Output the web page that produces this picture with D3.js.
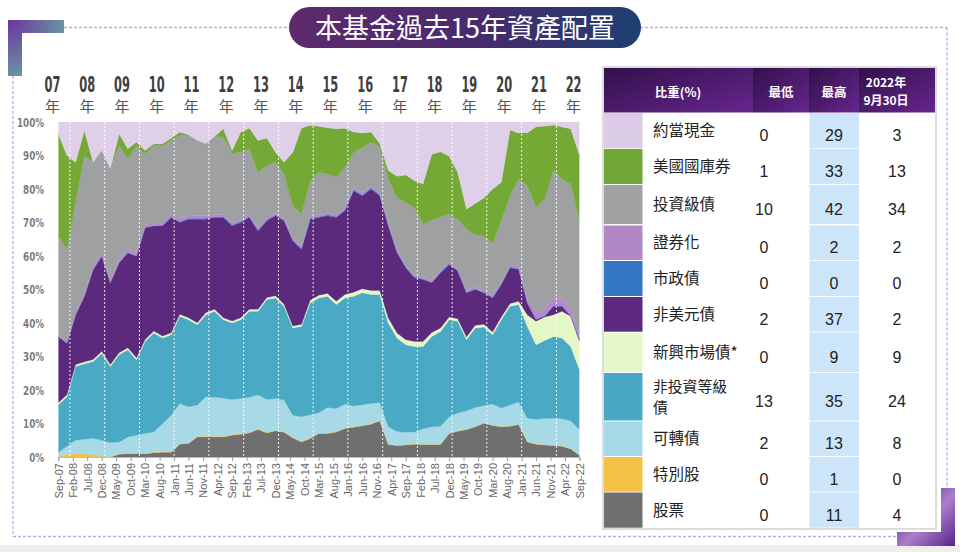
<!DOCTYPE html>
<html><head><meta charset="utf-8">
<script src="https://cdn.jsdelivr.net/npm/d3@7"></script>
<style>body{margin:0;background:#fff;}svg{display:block;}</style>
</head><body>
<svg id="c" width="960" height="552"></svg>
<script>
// ---------- DATA ----------
const dates = ["2007-09","2007-12","2008-03","2008-06","2008-09","2008-12","2009-03","2009-06","2009-09","2009-12",
"2010-03","2010-06","2010-09","2010-12","2011-03","2011-06","2011-09","2011-12","2012-03","2012-06",
"2012-09","2012-12","2013-03","2013-06","2013-09","2013-12","2014-03","2014-06","2014-09","2014-12",
"2015-03","2015-06","2015-09","2015-12","2016-03","2016-06","2016-09","2016-12","2017-03","2017-06",
"2017-09","2017-12","2018-03","2018-06","2018-09","2018-12","2019-03","2019-06","2019-09","2019-12",
"2020-03","2020-06","2020-09","2020-12","2021-03","2021-06","2021-09","2021-12","2022-03","2022-06","2022-09"];

const stock = [0,0,0,0,0,0,0,0.8,1.0,1.0, 0.9,1.3,1.4,1.4,3.8,4.0,6.0,6.0,6.0,6.0, 6.5,6.8,7.2,8.2,7.2,7.8,7.4,5.7,4.5,5.5,
 7.0,7.0,7.5,8.5,8.9,9.3,9.8,10.8,3.7,3.4, 3.6,3.8,3.7,3.7,3.7,7.0,7.7,8.2,9.0,10.1, 9.4,9.0,9.2,9.7,4.5,3.8,3.6,3.4,3.2,2.4, 0.5];
const pref = [0,0.8,1.0,1.0,0.6,0.3,0,0.2,0.2,0.2, 0.2,0.2,0.2,0.2,0.2,0.2,0.2,0.2,0.2,0.2, 0.2,0.2,0.2,0.2,0.2,0.2,0.2,0.2,0.2,0.2,
 0.1,0.1,0.1,0.1,0.1,0.1,0.1,0.1,0.1,0.1, 0.1,0.1,0.1,0.1,0.1,0.1,0.1,0.1,0.1,0.1, 0.1,0.1,0.1,0.1,0.1,0.1,0.1,0.1,0.1,0.1, 0.1];
const conv = [1.4,2.4,4.0,4.3,5.0,4.7,4.3,3.5,4.8,5.3, 5.9,6.0,8.4,10.9,12.0,10.8,9.3,11.8,11.6,11.4, 10.5,10.5,10.4,10.2,9.8,9.5,9.4,6.6,7.3,6.9,
 6.1,7.7,6.9,7.2,6.2,6.2,6.1,5.4,5.2,4.1, 3.7,3.6,4.6,5.2,5.4,4.9,5.3,5.5,5.7,5.2, 6.3,5.5,6.2,6.7,7.0,7.4,7.8,8.1,8.1,8.3, 7.6];
const hy = [14.2,14.8,22.0,22.5,22.9,26.0,22.7,26.0,26.0,22.5, 27.5,29.5,25.5,24.0,26.0,26.0,24.0,24.5,25.7,23.4, 22.8,23.5,25.7,24.9,29.8,30.0,28.0,26.0,27.0,33.4,
 34.3,33.2,31.0,31.7,32.8,33.4,32.5,32.2,31.0,27.9, 26.1,25.5,24.6,27.0,28.3,29.0,27.4,21.2,23.7,23.4, 20.7,26.4,29.5,29.0,27.4,22.2,23.3,24.4,24.1,22.2, 17.8];
const em = [0.6,0.6,0.6,0.6,0.6,0.6,0.6,0.6,0.6,0.6, 0.6,0.6,0.6,0.6,0.6,0.6,0.6,0.6,0.6,0.6, 0.6,0.6,0.6,0.6,0.6,0.6,0.6,0.6,0.6,0.8,
 0.8,0.8,1.0,1.0,1.2,1.2,1.2,1.2,1.5,1.5, 1.5,1.5,1.5,1.2,1.0,0.8,0.8,0.8,0.8,0.8, 0.8,0.8,0.8,1.0,3.5,7.0,7.0,6.5,8.0,9.0, 8.5];
const nonusd = [19.8,15.4,14.9,19.6,26.9,28.4,24.4,26.9,28.4,30.4, 33.4,31.4,32.9,34.4,27.4,29.4,30.9,27.9,27.4,29.9, 28.4,28.4,27.4,23.4,22.9,23.9,24.9,25.4,22.4,24.2,
 23.2,23.2,25.0,25.0,30.3,27.8,30.3,28.3,27.5,24.0, 21.5,19.0,18.5,14.8,16.5,15.7,14.2,13.2,10.7,9.4, 10.2,9.7,10.7,9.5,3.5,0.5,0.2,2.5,1.5,0.0, 0.5];
const muni = [0,0,0,0,0,0,0,0,0,0, 0,0,0.2,0.2,0.3,0.3,0.3,0.3,0.3,0.3, 0.3,0.3,0.3,0.3,0.3,0.3,0.3,0.3,0.3,0.3,
 0.3,0.3,0.3,0.3,0.3,0.3,0.3,0.3,0.3,0.3, 0.2,0.2,0.2,0.2,0.2,0.2,0.2,0.2,0.2,0.2, 0.2,0.2,0.2,0.2,0.2,0.2,0.2,0.2,0.2,0.2, 0.2];
const sec = [0.3,0.3,0.5,0.8,1.0,1.0,1.0,1.0,1.0,1.0, 0.8,0.8,0.8,0.8,0.8,0.7,0.7,0.7,0.7,0.7, 0.7,0.7,0.7,0.7,0.7,0.7,0.7,0.7,0.7,0.7,
 0.7,0.7,0.7,0.7,0.7,0.7,0.7,0.7,0.7,0.7, 0.6,0.6,0.6,0.6,0.6,0.6,0.6,0.6,0.6,0.6, 0.6,0.6,0.6,1.0,1.5,2.0,2.0,2.5,2.0,2.0, 2.0];
const ig = [29.7,27.7,33.0,41.2,31.0,30.5,33.0,34.0,27.0,32.0, 21.2,23.2,23.0,22.0,24.9,24.2,22.5,21.5,23.2,23.0, 20.7,20.0,19.5,16.5,15.5,15.0,13.0,9.5,9.5,10.5,
 12.5,11.5,11.0,12.0,10.5,13.3,13.0,13.6,13.0,15.5, 18.7,20.2,15.7,17.9,15.9,14.2,14.7,18.2,15.6,16.2, 15.5,18.2,20.7,25.8,33.3,31.5,32.8,38.0,35.8,37.3, 33.5];
const tsy = [30.5,28.0,12.0,7.5,0,0,0,3.5,3.0,1.0, 1.0,0.5,0.5,0.7,1.0,0,0,0,0,2.5, 0.8,6.0,6.2,9.5,8.2,3.0,3.5,16.0,25.7,16.5,
 13.7,13.8,14.5,11.6,6.0,4.4,3.0,1.0,2.5,6.3, 8.2,8.0,12.0,19.7,19.4,17.3,14.0,6.0,9.3,11.3, 16.2,11.5,19.6,13.7,15.7,23.9,21.8,13.4,15.5,16.5, 19.4];
const cash = [3.5,10.0,12.0,2.5,12.0,8.5,14.0,3.5,8.0,6.0, 8.5,6.5,6.5,4.8,3.0,3.8,5.5,6.5,4.3,2.0, 8.5,3.0,1.8,5.5,4.8,9.0,12.0,9.0,1.8,1.0,
 1.3,1.7,2.0,1.9,3.0,3.3,3.0,6.4,14.5,16.2, 15.8,17.5,18.5,9.6,8.9,10.2,15.0,26.0,24.3,22.7, 20.0,18.0,2.4,3.3,3.3,1.4,1.2,0.9,1.5,2.0, 9.9];

const xTickLabels = ["Sep-07","Feb-08","Jul-08","Dec-08","May-09","Oct-09","Mar-10","Aug-10","Jan-11","Jun-11","Nov-11","Apr-12","Sep-12",
"Feb-13","Jul-13","Dec-13","May-14","Oct-14","Mar-15","Aug-15","Jan-16","Jun-16","Nov-16","Apr-17","Sep-17","Feb-18","Jul-18","Dec-18",
"May-19","Oct-19","Mar-20","Aug-20","Jan-21","Jun-21","Nov-21","Apr-22","Sep-22"];
const yearLabels = ["07","08","09","10","11","12","13","14","15","16","17","18","19","20","21","22"];
const yTicks = [0,10,20,30,40,50,60,70,80,90,100];

const tableLabels = ["約當現金","美國國庫券","投資級債","證券化","市政債","非美元債","新興市場債*","非投資等級|債","可轉債","特別股","股票"];
const minVals = [0,1,10,0,0,2,0,13,2,0,0];
const maxVals = [29,33,42,2,0,37,9,35,13,1,11];
const latestVals = [3,13,34,2,0,2,9,24,8,0,4];
const headerLabels = ["比重(%)","最低","最高","2022年|9月30日"];
const titleText = "本基金過去15年資產配置";

// ---------- SETUP ----------
const keys = ["stock","pref","conv","hy","em","nonusd","muni","sec","ig","tsy","cash"];
const seriesArr = {stock,pref,conv,hy,em,nonusd,muni,sec,ig,tsy,cash};
const chartColors = {stock:"#6f6f6f",pref:"#f3c044",conv:"#a8d9e7",hy:"#4aa9c4",em:"#e6f7c6",nonusd:"#5c2a7c",
  muni:"#3a78c2",sec:"#b38ad0",ig:"#9ea0a1",tsy:"#74a935",cash:"#e0cfe8"};
const tableKeys = ["cash","tsy","ig","sec","muni","nonusd","em","hy","conv","pref","stock"];
const swatchColors = {stock:"#707070",pref:"#f4c245",conv:"#a6d9e8",hy:"#4ba8c4",em:"#e7f8cb",nonusd:"#5d2a7f",
  muni:"#3377c2",sec:"#b187c6",ig:"#a0a2a3",tsy:"#72a737",cash:"#dccbe6"};

const parseD = d3.timeParse("%Y-%m");
const parseT = d3.timeParse("%b-%y");
const rows = dates.map((d,i)=>{const r={date:parseD(d)}; keys.forEach(k=>r[k]=seriesArr[k][i]); return r;});

const svg = d3.select("#c");
const defs = svg.append("defs");
function lin(id, stops, x1,y1,x2,y2){
  const g=defs.append("linearGradient").attr("id",id).attr("x1",x1).attr("y1",y1).attr("x2",x2).attr("y2",y2);
  stops.forEach(([o,c])=>g.append("stop").attr("offset",o).attr("stop-color",c));
}
lin("gTitle",[[0,"#5e2a6e"],[0.55,"#482b6c"],[1,"#1d3f72"]],"0%","0%","100%","0%");
lin("gHead",[[0,"#32104a"],[1,"#66268e"]],"0%","0%","100%","100%");
lin("gBR",[[0,"#4a1b70"],[0.55,"#a97fcb"],[1,"#58238a"]],"0%","0%","100%","100%");
const rg = defs.append("radialGradient").attr("id","gTL").attr("gradientUnits","userSpaceOnUse")
  .attr("cx",8).attr("cy",20).attr("r",62);
rg.append("stop").attr("offset",0).attr("stop-color","#6a34a0");
rg.append("stop").attr("offset",1).attr("stop-color","#6a9ca2");
defs.append("clipPath").attr("id","plotClip").append("rect").attr("x",58.3).attr("y",122).attr("width",521.2).attr("height",335);

// background bottom strip
svg.append("rect").attr("x",0).attr("y",545).attr("width",960).attr("height",7).attr("fill","#eeeeee");

// dotted frame
const dash = {stroke:"#c9a3ea","stroke-width":1.3,"stroke-dasharray":"3,2",fill:"none"};
function dl(x1,y1,x2,y2){const l=svg.append("line").attr("x1",x1).attr("y1",y1).attr("x2",x2).attr("y2",y2); Object.entries(dash).forEach(([k,v])=>l.attr(k,v));}
dl(64,27.5,290,27.5); dl(640,27.5,947,27.5); dl(947,27.5,947,488); dl(13,76,13,536.5); dl(13,536.5,897,536.5);

// decorations
svg.append("path").attr("d","M8,20 H64 V33 H22 V76 H8 Z").attr("fill","url(#gTL)");
svg.append("path").attr("d","M941,488 H955 V546 H897 V532 H941 Z").attr("fill","url(#gBR)");

// title
svg.append("rect").attr("x",289).attr("y",7).attr("width",352).attr("height",41).attr("rx",20.5).attr("fill","url(#gTitle)");
svg.append("text").attr("x",465).attr("y",37.5).attr("text-anchor","middle").attr("fill","#fff")
  .attr("font-family","'Noto Sans CJK TC','Noto Sans CJK SC',sans-serif").attr("font-size",27).text(titleText);

// ---------- CHART ----------
const x = d3.scaleTime().domain([parseD("2007-09"),parseD("2022-09")]).range([58.3,579.5]);
const y = d3.scaleLinear().domain([0,100]).range([457,122]);
const stack = d3.stack().keys(keys)(rows);
const area = d3.area().x(d=>x(d.data.date)).y0(d=>y(d[0])).y1(d=>y(d[1]));
const g = svg.append("g").attr("clip-path","url(#plotClip)");
g.selectAll("path.layer").data(stack).join("path").attr("class","layer")
  .attr("d",area).attr("fill",d=>chartColors[d.key]).attr("stroke",d=>chartColors[d.key]).attr("stroke-width",0.3);

// white dotted year lines (January)
const jan = yearLabels.slice(1).map(s=>new Date(2000+ +s,0,1));
g.selectAll("line.yr").data(jan).join("line").attr("class","yr")
  .attr("x1",d=>x(d)).attr("x2",d=>x(d)).attr("y1",122).attr("y2",457)
  .attr("stroke","#ffffff").attr("stroke-width",1).attr("stroke-dasharray","2,2").attr("opacity",0.9);

// x axis
const xa = svg.append("g").attr("transform","translate(0,457)")
  .call(d3.axisBottom(x).tickValues(xTickLabels.map(parseT)).tickFormat(d3.timeFormat("%b-%y")).tickSize(4).tickPadding(3));
xa.select(".domain").attr("stroke","#bdbdbd");
xa.selectAll(".tick line").attr("stroke","#9a9a9a");
xa.selectAll(".tick text").attr("transform","rotate(-90)").attr("text-anchor","end")
  .attr("x",-6).attr("y",0).attr("dy","0.35em")
  .attr("font-family","'Liberation Sans',Arial,sans-serif").attr("font-size",11).attr("fill","#666");

// y axis
const ya = svg.append("g").attr("transform","translate(44,0)")
  .call(d3.axisLeft(y).tickValues(yTicks).tickFormat(d=>d+"%").tickSize(0).tickPadding(0));
ya.select(".domain").remove();
ya.selectAll(".tick text").attr("transform","scale(0.78,1)")
  .attr("font-family","'DejaVu Sans Condensed','Liberation Sans',sans-serif")
  .attr("font-weight","bold").attr("font-size",12.5).attr("fill","#7c7c7c");

// year labels
const yl = svg.append("g");
yearLabels.forEach(s=>{
  const cx = x(new Date(2000+ +s,6,1));
  yl.append("text").attr("transform",`translate(${cx},${92}) scale(0.62,1)`).attr("text-anchor","middle")
    .attr("font-family","'DejaVu Sans Condensed','Liberation Sans',sans-serif").attr("font-weight","bold")
    .attr("font-size",20.5).attr("fill","#3f3f3f").text(s);
  yl.append("text").attr("x",cx).attr("y",112).attr("text-anchor","middle")
    .attr("font-family","'Noto Sans CJK TC',sans-serif").attr("font-size",15).attr("fill","#555").text("年");
});

// ---------- TABLE ----------
const T = svg.append("g");
T.append("rect").attr("x",603).attr("y",67).attr("width",333).attr("height",462).attr("fill","#fff")
  .attr("stroke","#dcdcdc").attr("stroke-width",2);
const headCells = [[604,753],[753,809],[809,859],[859,935]];
const headCx = [678,781,834,886];
headCells.forEach(([a,b],i)=>{
  T.append("rect").attr("x",a).attr("y",68).attr("width",b-a).attr("height",44.5).attr("fill","url(#gHead)");
  const parts = headerLabels[i].split("|");
  parts.forEach((p,j)=>{
    T.append("text").attr("x",headCx[i]).attr("y",parts.length>1?(86.5+j*18.5):96.5).attr("text-anchor","middle")
      .attr("font-family","'Noto Sans CJK TC','Liberation Sans',sans-serif").attr("font-weight","bold")
      .attr("font-size",parts.length>1?12:12.5).attr("fill","#fff").text(p);
  });
});
const rowTops = [113,149,185,225.5,261,297,332.5,373,421.5,457,492.5];
const rowHs = [35.3,35,39,34.5,35,34.7,39.5,47.5,34.5,34.7,35.2];
tableKeys.forEach((k,i)=>{
  const t=rowTops[i], h=rowHs[i], cy=t+h/2;
  T.append("rect").attr("x",604).attr("y",t).attr("width",38.5).attr("height",h).attr("fill",swatchColors[k]);
  T.append("rect").attr("x",809.5).attr("y",t).attr("width",49.5).attr("height",h).attr("fill","#cde5f9");
  const lines = tableLabels[i].split("|");
  lines.forEach((ln,j)=>{
    T.append("text").attr("x",653).attr("y",lines.length>1?cy-10.5+j*21.5+5.5:cy+5.5)
      .attr("font-family","'Noto Sans CJK TC',sans-serif").attr("font-size",lines.length>1?14.8:15.5)
      .attr("fill","#222").text(ln);
  });
  [[764,minVals[i]],[834,maxVals[i]],[897,latestVals[i]]].forEach(([cx,v])=>{
    T.append("text").attr("x",cx).attr("y",cy+10.5).attr("text-anchor","middle")
      .attr("font-family","'Liberation Sans',Arial,sans-serif").attr("font-size",16).attr("fill","#222").text(v);
  });
});
</script>
</body></html>
